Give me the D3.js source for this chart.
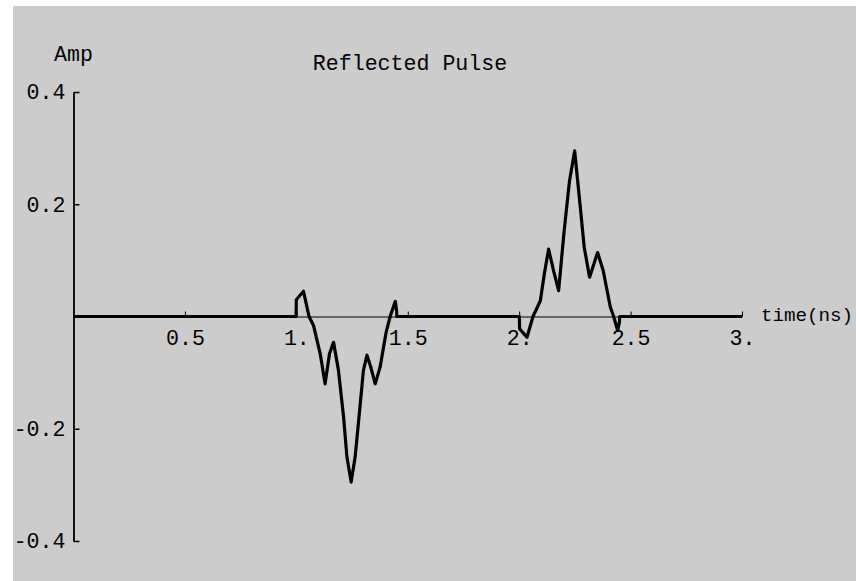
<!DOCTYPE html>
<html>
<head>
<meta charset="utf-8">
<style>
  body { margin: 0; background: #fff; }
  text { font-family: "Liberation Mono", "DejaVu Sans Mono", monospace; fill: #000; }
</style>
</head>
<body>
<svg id="svg1" width="856" height="581"></svg>
<script src="https://d3js.org/d3.v7.min.js"></script>
<script>

// reflected pulse (time in ns, amplitude)
var timeNs = [0, 0.999, 1.0, 1.032, 1.057, 1.077, 1.107, 1.129, 1.149, 1.167, 1.189, 1.212, 1.227, 1.246,
              1.264, 1.287, 1.301, 1.317, 1.334, 1.354, 1.376, 1.403, 1.421, 1.444, 1.450, 1.451,
              2.001, 2.002, 2.035, 2.062, 2.095, 2.113, 2.132, 2.154, 2.177, 2.202, 2.226, 2.249,
              2.270, 2.292, 2.316, 2.352, 2.377, 2.409, 2.424, 2.442, 2.450, 2.451, 3];
var amp = [0, 0, 0.030, 0.045, 0, -0.016, -0.066, -0.120, -0.066, -0.046, -0.096, -0.179, -0.250, -0.295,
           -0.250, -0.155, -0.096, -0.069, -0.090, -0.120, -0.090, -0.028, 0, 0.027, 0.010, 0,
           0, -0.022, -0.037, 0, 0.028, 0.076, 0.120, 0.082, 0.046, 0.153, 0.242, 0.295,
           0.212, 0.123, 0.070, 0.114, 0.082, 0.017, 0, -0.025, -0.010, 0, 0];

var xTicks = [0.5, 1, 1.5, 2, 2.5, 3],
    xTickLabels = ["0.5", "1.", "1.5", "2.", "2.5", "3."];
var yTicks = [0.4, 0.2, -0.2, -0.4],
    yTickLabels = ["0.4", "0.2", "-0.2", "-0.4"];

var svg = d3.select("#svg1"),
    width = +svg.attr("width"),
    height = +svg.attr("height");

svg.append("rect")
    .attr("x", 13).attr("y", 6)
    .attr("width", width - 13).attr("height", height - 6)
    .attr("fill", "#cccccc");

var x = d3.scaleLinear().domain([0, 3]).range([73.5, 742]),
    y = d3.scaleLinear().domain([-0.4, 0.4]).range([541, 92]);

var fs = 21.6;

// x axis sits at amp = 0, ticks point up
var xAxis = svg.append("g")
    .attr("transform", "translate(0," + y(0) + ")")
    .call(d3.axisBottom(x)
      .tickValues(xTicks)
      .tickFormat(function(d, i) { return xTickLabels[i]; })
      .tickSizeInner(-5)
      .tickSizeOuter(0)
      .tickPadding(13));
xAxis.selectAll("text").attr("font-size", fs).style("font-family", "'Liberation Mono', monospace");
xAxis.select(".domain").attr("stroke-width", 1.2);

// y axis at t = 0, ticks point right
var yAxis = svg.append("g")
    .attr("transform", "translate(" + x(0) + ",0)")
    .call(d3.axisLeft(y)
      .tickValues(yTicks)
      .tickFormat(function(d, i) { return yTickLabels[i]; })
      .tickSizeInner(-6)
      .tickSizeOuter(0)
      .tickPadding(8));
yAxis.selectAll("text").attr("font-size", fs).style("font-family", "'Liberation Mono', monospace");
yAxis.select(".domain").attr("stroke-width", 1.8);
yAxis.selectAll(".tick line").attr("stroke-width", 1.5);

var line = d3.line()
    .x(function(d, i) { return x(timeNs[i]); })
    .y(function(d) { return y(d); });

svg.append("path")
    .datum(amp)
    .attr("fill", "none")
    .attr("stroke", "#000")
    .attr("stroke-width", 3.2)
    .attr("stroke-linejoin", "round")
    .attr("d", line);

svg.append("text")
    .attr("x", 54).attr("y", 61)
    .attr("font-size", fs)
    .text("Amp");

svg.append("text")
    .attr("x", 410).attr("y", 70)
    .attr("text-anchor", "middle")
    .attr("font-size", fs)
    .text("Reflected Pulse");

// slightly smaller so it stays inside the frame
svg.append("text")
    .attr("x", 761).attr("y", 321)
    .attr("font-size", 19.2)
    .text("time(ns)");

</script>
</body>
</html>
